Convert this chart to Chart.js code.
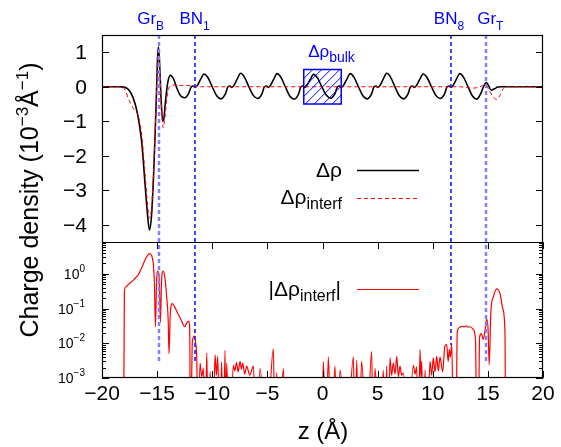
<!DOCTYPE html>
<html>
<head>
<meta charset="utf-8">
<script src="https://cdn.jsdelivr.net/npm/chart.js@4.4.1/dist/chart.umd.min.js"></script>
<style>
  html, body { margin: 0; padding: 0; background: #fff; }
  #wrap { width: 561px; height: 447px; }
</style>
</head>
<body>
<div id="wrap"><canvas id="chart" width="561" height="447"></canvas></div>
<script>
// Δρ (total), top panel
const zRho = [-20, -18.5, -18.0, -17.6, -17.2, -16.8, -16.4, -16.1, -15.9, -15.7, -15.5, -15.3, -15.1, -14.95, -14.88, -14.78, -14.65, -14.5, -14.4, -14.25, -14.05, -13.8, -13.5, -13.2, -12.85, -12.5, -12.15,
  -11.9, -11.7, -11.55, -11.35, -11.05, -10.75, -10.4, -10.0, -9.6, -9.2, -8.8,
  -8.58, -8.38, -8.23, -8.03, -7.73, -7.43, -7.08, -6.68, -6.28, -5.88, -5.48,
  -5.27, -5.07, -4.92, -4.72, -4.42, -4.12, -3.77, -3.37, -2.97, -2.57, -2.17,
  -1.96, -1.76, -1.61, -1.41, -1.11, -0.81, -0.46, -0.06, 0.34, 0.74, 1.14,
  1.36, 1.56, 1.71, 1.91, 2.21, 2.51, 2.86, 3.26, 3.66, 4.06, 4.46,
  4.67, 4.87, 5.02, 5.22, 5.52, 5.82, 6.17, 6.57, 6.97, 7.37, 7.77,
  7.98, 8.18, 8.33, 8.53, 8.83, 9.13, 9.48, 9.88, 10.28, 10.68, 11.08,
  11.3, 11.5, 11.65, 11.85, 12.15, 12.45, 12.8, 13.2, 13.6, 14.0, 14.35,
  14.6, 14.85, 15.05, 15.3, 15.6, 15.9, 16.3, 20];
const dRho = [0, 0, -0.01, -0.08, -0.3, -0.75, -1.6, -2.8, -3.6, -4.15, -3.7, -2.4, -0.6, 0.9, 1.15, 0.7, -0.3, -1.0, -0.95, -0.45, 0.1, 0.33, 0.22, -0.05, -0.27, -0.32, -0.2,
  0.0, 0.02, -0.02, 0.04, 0.22, 0.37, 0.27, 0.0, -0.26, -0.35, -0.2,
  0.0, 0.02, -0.02, 0.04, 0.23, 0.39, 0.28, 0.0, -0.25, -0.34, -0.2,
  0.0, 0.02, -0.02, 0.04, 0.22, 0.38, 0.27, 0.0, -0.27, -0.36, -0.21,
  0.0, 0.02, -0.02, 0.04, 0.21, 0.36, 0.26, 0.0, -0.24, -0.33, -0.19,
  0.0, 0.02, -0.02, 0.04, 0.22, 0.38, 0.27, 0.0, -0.26, -0.35, -0.2,
  0.0, 0.02, -0.02, 0.04, 0.23, 0.39, 0.28, 0.0, -0.26, -0.35, -0.2,
  0.0, 0.02, -0.02, 0.04, 0.22, 0.37, 0.27, 0.0, -0.25, -0.34, -0.2,
  0.0, 0.02, -0.02, 0.04, 0.22, 0.38, 0.27, 0.0, -0.27, -0.36, -0.2,
  0.0, 0.12, 0.04, -0.1, -0.06, -0.01, 0, 0];

// Δρ_interf, top panel
const zInt = [-20, -18.2, -17.9, -17.6, -17.3, -17.0, -16.7, -16.4, -16.1, -15.9, -15.7, -15.5, -15.3, -15.1, -14.95, -14.88, -14.78, -14.62, -14.45, -14.3, -14.1, -13.9, -13.6, -13.0, -12.0, -11.6, -11.0,
  12.5, 13.0, 13.6, 14.1, 14.5, 14.8, 15.1, 15.5, 15.8, 16.1, 16.4, 16.7, 20];
const dRhoInt = [0, 0, -0.1, -0.35, -0.55, -0.7, -0.85, -1.4, -2.5, -3.3, -3.8, -3.5, -2.3, -0.6, 0.8, 1.05, 0.6, -0.5, -1.2, -0.9, -0.3, 0.0, 0.05, 0.04, 0.03, 0.01, 0,
  0, -0.02, -0.04, -0.02, 0.03, 0.06, -0.1, -0.3, -0.37, -0.25, -0.05, 0, 0];

// |Δρ_interf|, bottom panel (1e-5 = below the axis floor)
const zAbs = [-20, -18.05, -17.97, -17.85, -17.6, -17.3, -17.0, -16.7, -16.4, -16.1, -15.9, -15.7, -15.5, -15.35, -15.25, -15.15, -15.05, -14.92, -14.8, -14.7, -14.6, -14.45, -14.3, -14.15, -14.0, -13.92, -13.8, -13.62, -13.4, -13.1, -12.8, -12.5, -12.3, -12.15, -12.05, -11.97,
  -11.8, -11.6, -11.5, -11.4, -11.3, -11.11, -10.95, -10.8, -10.65, -10.5, -10.35, -10.2, -9.95, -9.75, -9.62, -9.5, -9.32, -9.15, -9.0, -8.84, -8.77, -8.7, -8.4, -8.09, -7.95, -7.8, -7.65, -7.48, -7.35, -7.24, -7.05, -6.88, -6.6, -6.27, -6.0, -5.67, -5.1, -4.46, -4.3, -4.16, -3.9, -3.56, -3.3,
  -0.1, 0.08, 0.3, 0.53, 0.8, 1.13, 1.35, 1.59, 2.2, 2.8, 2.95, 3.1, 3.3, 3.55, 4.0, 4.46, 4.6, 4.76, 5.2, 5.52, 5.67, 5.82, 5.97, 6.12, 6.27, 6.42, 6.58, 6.73, 6.88, 7.03, 7.18, 7.33, 7.7,
  8.24, 8.4, 8.54, 8.7, 8.84, 8.92, 9.0, 9.15, 9.3, 9.5, 9.75, 9.9, 10.05, 10.2, 10.36, 10.5, 10.66, 10.9, 11.1, 11.26, 11.4, 11.5, 11.6, 11.72, 11.9,
  12.1, 12.22, 12.4, 12.62, 12.85, 13.08, 13.2, 13.38, 13.68, 13.88, 14.0, 14.12, 14.25, 14.4, 14.59, 14.75, 14.89, 15.02, 15.12, 15.28, 15.5, 15.8, 16.1, 16.35, 16.55, 16.62, 20];
const absInt = [1e-5, 1e-5, 0.3, 0.42, 0.5, 0.6, 0.75, 0.95, 1.5, 2.5, 3.3, 3.85, 3.4, 2.0, 0.6, 0.03, 0.6, 1.2, 0.6, 0.04, 0.6, 1.2, 0.8, 0.25, 0.05, 0.005, 0.08, 0.14, 0.11, 0.07, 0.045, 0.03, 0.04, 0.043, 0.03, 1e-5,
  0.012, 0.016, 0.01, 0.003, 1e-5, 0.0027, 0.0011, 0.0019, 1e-5, 0.0053, 1e-5, 0.0015, 1e-5, 0.0047, 0.0012, 0.0042, 1e-5, 0.0029, 1e-5, 0.0063, 1e-5, 0.0027, 1e-5, 0.0023, 0.0016, 0.0028, 0.0015, 0.003, 0.0018, 0.0027, 0.0013, 0.0022, 0.0012, 0.0022, 1e-5, 0.0019, 1e-5, 0.0069, 1e-5, 0.0014, 1e-5, 0.0019, 1e-5,
  1e-5, 0.003, 1e-5, 0.004, 1e-5, 0.0022, 1e-5, 0.0017, 1e-5, 0.0041, 1e-5, 0.0033, 1e-5, 0.003, 1e-5, 0.0059, 1e-5, 0.0019, 1e-5, 0.0017, 1e-5, 0.0022, 1e-5, 0.0038, 0.0012, 0.0027, 0.0013, 0.0042, 0.0011, 0.0022, 0.0012, 0.0014, 1e-5,
  0.0023, 0.0013, 0.0021, 1e-5, 0.0066, 0.0011, 0.003, 1e-5, 0.0017, 1e-5, 0.003, 0.0012, 0.0038, 0.0015, 0.0042, 0.0016, 0.004, 0.0015, 0.0085, 0.0092, 0.003, 0.0066, 0.004, 0.01, 1e-5,
  1e-5, 0.02, 0.028, 0.031, 0.03, 0.032, 0.029, 0.03, 0.025, 0.012, 1e-5, 1e-5, 0.015, 0.019, 0.013, 0.025, 0.05, 0.025, 0.0024, 0.09, 0.22, 0.37, 0.27, 0.1, 0.02, 1e-5, 1e-5];

const xTicks = [-20, -15, -10, -5, 0, 5, 10, 15, 20];
const yTicks = [-4, -3, -2, -1, 0, 1];
const logTicks = [1e-3, 1e-2, 1e-1, 1];
const logExp = ['−3', '−2', '−1', '0'];

// layer markers: position, label, subscript, where the line stops in the log panel
const layerZ = [-14.86, -11.6, 11.65, 14.86];
const layerName = ['Gr', 'BN', 'BN', 'Gr'];
const layerSub = ['B', '1', '8', 'T'];
const layerEnd = [0.003, 0.003, 0.009, 0.003];
const bulkBox = [-1.7, 1.7, -0.5, 0.5];

const FONT = "'Liberation Sans', Arial, sans-serif";

function rich(ctx, parts, x, y, align) {
  let w = 0;
  parts.forEach(p => { ctx.font = p[1] + 'px ' + FONT; w += ctx.measureText(p[0]).width; });
  let cx = align === 'right' ? x - w : (align === 'center' ? x - w / 2 : x);
  ctx.textAlign = 'left';
  parts.forEach(p => {
    ctx.font = p[1] + 'px ' + FONT;
    ctx.fillText(p[0], cx, y + (p[2] || 0));
    cx += ctx.measureText(p[0]).width;
  });
}

function hline(ctx, x1, x2, y) { ctx.beginPath(); ctx.moveTo(x1, y); ctx.lineTo(x2, y); ctx.stroke(); }
function vline(ctx, x, y1, y2) { ctx.beginPath(); ctx.moveTo(x, y1); ctx.lineTo(x, y2); ctx.stroke(); }

const decor = {
  id: 'decor',
  afterDraw(chart) {
    const { ctx, chartArea: ca } = chart;
    const xs = chart.scales.x, yT = chart.scales.yLin, yB = chart.scales.yLog;
    ctx.save();

    // reference lines at the layers
    layerZ.forEach((z, i) => {
      const gr = layerName[i] === 'Gr';
      const px = Math.round(xs.getPixelForValue(z));
      ctx.strokeStyle = gr ? '#8080ff' : '#1a1aff';
      ctx.lineWidth = gr ? 2.5 : 1.6;
      ctx.setLineDash([4, 3]);
      vline(ctx, px, yT.top, yB.getPixelForValue(layerEnd[i]));
    });
    ctx.setLineDash([]);

    // hatched bulk box
    const bx1 = xs.getPixelForValue(bulkBox[0]), bx2 = xs.getPixelForValue(bulkBox[1]);
    const by1 = yT.getPixelForValue(bulkBox[3]), by2 = yT.getPixelForValue(bulkBox[2]);
    ctx.save();
    ctx.beginPath(); ctx.rect(bx1, by1, bx2 - bx1, by2 - by1); ctx.clip();
    ctx.strokeStyle = '#0000ff'; ctx.lineWidth = 1;
    for (let s = bx1 - (by2 - by1); s < bx2; s += 9) {
      ctx.beginPath(); ctx.moveTo(s, by2); ctx.lineTo(s + (by2 - by1), by1); ctx.stroke();
    }
    ctx.restore();
    ctx.strokeStyle = '#0000ff'; ctx.lineWidth = 1.5;
    ctx.strokeRect(bx1, by1, bx2 - bx1, by2 - by1);

    // frame
    ctx.strokeStyle = '#000'; ctx.lineWidth = 1.2;
    ctx.strokeRect(ca.left + 0.5, ca.top + 0.5, ca.right - ca.left - 1, ca.bottom - ca.top - 1);
    hline(ctx, ca.left, ca.right, Math.round(yT.bottom) + 0.5);

    // inward ticks
    ctx.lineWidth = 1;
    yTicks.forEach(v => {
      const py = Math.round(yT.getPixelForValue(v)) + 0.5;
      hline(ctx, ca.left, ca.left + 7, py);
      hline(ctx, ca.right - 7, ca.right, py);
    });
    xTicks.forEach(v => {
      const px = Math.round(xs.getPixelForValue(v)) + 0.5;
      vline(ctx, px, yB.bottom, yB.bottom - 7);
      vline(ctx, px, yB.top, yB.top + 7);
    });
    logTicks.forEach(v => {
      const py = Math.round(yB.getPixelForValue(v)) + 0.5;
      hline(ctx, ca.left, ca.left + 7, py);
      hline(ctx, ca.right - 7, ca.right, py);
      for (let k = 2; k <= 9; k++) {
        const m = v * k;
        if (m > yB.max) break;
        const pm = Math.round(yB.getPixelForValue(m)) + 0.5;
        hline(ctx, ca.left, ca.left + 4, pm);
        hline(ctx, ca.right - 4, ca.right, pm);
      }
    });

    // tick labels
    ctx.fillStyle = '#000';
    ctx.textBaseline = 'middle';
    yTicks.forEach(v => {
      rich(ctx, [[String(v).replace('-', '−'), 21]], 87, yT.getPixelForValue(v) + 1, 'right');
    });
    ctx.textBaseline = 'alphabetic';
    xTicks.forEach(v => {
      rich(ctx, [[String(v).replace('-', '−'), 21]], xs.getPixelForValue(v), 400, 'center');
    });
    logTicks.forEach((v, i) => {
      rich(ctx, [['10', 14], [logExp[i], 10, -7]], 85, yB.getPixelForValue(v) + 5, 'right');
    });

    // axis titles
    rich(ctx, [['z (Å)', 24]], 323, 439, 'center');
    ctx.save();
    ctx.translate(38, 200);
    ctx.rotate(-Math.PI / 2);
    rich(ctx, [['Charge density (10', 25], ['−3', 17, -10], ['Å', 25], ['−1', 17, -10], [')', 25]], 0, 0, 'center');
    ctx.restore();

    // layer labels
    ctx.fillStyle = '#0000ff';
    const dx = [-8, 0, -2, 4];
    layerZ.forEach((z, i) => {
      rich(ctx, [[layerName[i], 17], [layerSub[i], 12, 6]], xs.getPixelForValue(z) + dx[i], 24, 'center');
    });
    rich(ctx, [['Δρ', 17], ['bulk', 14, 5]], (bx1 + bx2) / 2 + 9, 57, 'center');

    // legends
    ctx.fillStyle = '#000';
    rich(ctx, [['Δρ', 21]], 342, 177, 'right');
    rich(ctx, [['Δρ', 21], ['interf', 16, 5]], 342, 204, 'right');
    rich(ctx, [['|Δρ', 21], ['interf', 16, 5], ['|', 21]], 341, 296, 'right');
    ctx.strokeStyle = '#000'; ctx.lineWidth = 1.6;
    hline(ctx, 357, 419, 170.5);
    ctx.strokeStyle = '#ff0000'; ctx.lineWidth = 1; ctx.setLineDash([4, 3]);
    hline(ctx, 357, 419, 198.5);
    ctx.setLineDash([]); ctx.lineWidth = 1.2;
    hline(ctx, 357, 419, 289.5);

    ctx.restore();
  }
};

const pts = (xs, ys) => xs.map((x, i) => ({ x: x, y: ys[i] }));

new Chart(document.getElementById('chart'), {
  type: 'line',
  data: {
    datasets: [
      { data: pts(zInt, dRhoInt), yAxisID: 'yLin', borderColor: '#ff0000', borderWidth: 1, borderDash: [4, 3], pointRadius: 0, cubicInterpolationMode: 'monotone' },
      { data: pts(zRho, dRho), yAxisID: 'yLin', borderColor: '#000000', borderWidth: 1.6, pointRadius: 0, cubicInterpolationMode: 'monotone' },
      { data: pts(zAbs, absInt), yAxisID: 'yLog', borderColor: '#ff0000', borderWidth: 1.2, pointRadius: 0, cubicInterpolationMode: 'monotone' }
    ]
  },
  options: {
    responsive: false,
    animation: false,
    devicePixelRatio: 1,
    layout: { padding: { left: 0, right: 18, top: 35, bottom: 0 } },
    plugins: { legend: { display: false }, tooltip: { enabled: false } },
    scales: {
      x: {
        type: 'linear', min: -20, max: 20,
        ticks: { display: false, stepSize: 5 },
        grid: { display: false, drawTicks: false },
        border: { display: false },
        afterFit: s => { s.height = 69; }
      },
      yLog: {
        type: 'logarithmic', min: 1e-3, max: 8.3, position: 'left',
        stack: 'panels', stackWeight: 136,
        ticks: { display: false },
        grid: { display: false, drawTicks: false },
        border: { display: false },
        afterFit: s => { s.width = 102; }
      },
      yLin: {
        type: 'linear', min: -4.5, max: 1.5, position: 'left',
        stack: 'panels', stackWeight: 207,
        ticks: { display: false, stepSize: 1 },
        grid: { display: false, drawTicks: false },
        border: { display: false },
        afterFit: s => { s.width = 102; }
      }
    }
  },
  plugins: [decor]
});
</script>
</body>
</html>
